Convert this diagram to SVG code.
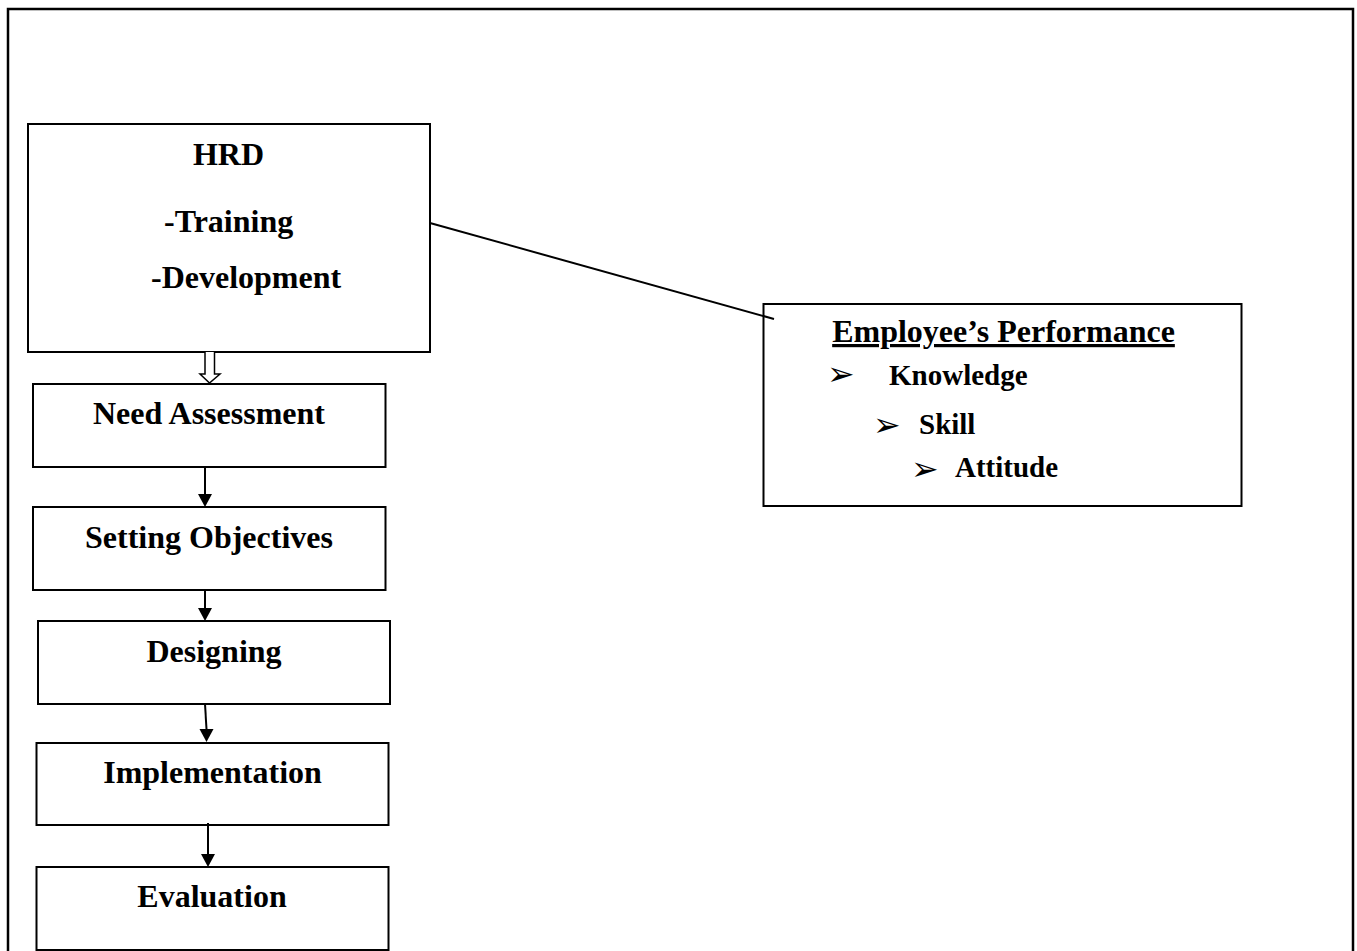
<svg xmlns="http://www.w3.org/2000/svg" width="1357" height="951" viewBox="0 0 1357 951">
<style>
.box{fill:#fff;stroke:#000;stroke-width:2}
.t{font-family:"Liberation Serif","Times New Roman",serif;font-weight:bold;font-size:32px;fill:#000}
.s{font-family:"Liberation Serif","Times New Roman",serif;font-weight:bold;font-size:29px;fill:#000}
.b{font-family:"DejaVu Sans",sans-serif;font-size:33px;fill:#000}
.c{stroke:#000;stroke-width:2;fill:none}
</style>
<rect width="1357" height="951" fill="#fff"/>
<path d="M8,951 L8,9 L1353,9 L1353,951" fill="none" stroke="#000" stroke-width="2.5"/>

<g id="hrd">
<rect class="box" x="28" y="124" width="402" height="228"/>
<text class="t" x="228.5" y="165" text-anchor="middle">HRD</text>
<text class="t" x="164" y="232">-Training</text>
<text class="t" x="151" y="288">-Development</text>
</g>

<g id="need">
<rect class="box" x="33" y="384" width="352.5" height="83"/>
<text class="t" x="209" y="424" text-anchor="middle">Need Assessment</text>
</g>

<g id="setting">
<rect class="box" x="33" y="507" width="352.5" height="83"/>
<text class="t" x="209" y="548" text-anchor="middle">Setting Objectives</text>
</g>

<g id="designing">
<rect class="box" x="38" y="621" width="352" height="83"/>
<text class="t" x="214" y="662" text-anchor="middle">Designing</text>
</g>

<g id="implementation">
<rect class="box" x="36.5" y="743" width="352" height="82"/>
<text class="t" x="212.5" y="783" text-anchor="middle">Implementation</text>
</g>

<g id="evaluation">
<rect class="box" x="36.5" y="867" width="352" height="83"/>
<text class="t" x="212" y="907" text-anchor="middle">Evaluation</text>
</g>

<g id="performance">
<rect class="box" x="763.5" y="304" width="478" height="202"/>
<text class="t" x="1003.5" y="342" text-anchor="middle" text-decoration="underline">Employee’s Performance</text>
<text class="b" x="827" y="385">➢</text>
<text class="s" x="889" y="385">Knowledge</text>
<text class="b" x="873" y="436">➢</text>
<text class="s" x="919" y="434">Skill</text>
<text class="b" x="911" y="480">➢</text>
<text class="s" x="955" y="477">Attitude</text>
</g>

<g id="connectors">
<line class="c" x1="430" y1="223" x2="774" y2="319" stroke-width="1.5"/>
<path d="M205,352 L205,374 L200,374 L209.5,383 L220,374 L214.5,374 L214.5,352" fill="#fff" stroke="#000" stroke-width="1.5"/>
<line x1="205" y1="467" x2="205" y2="494" stroke="#000" stroke-width="2"/>
<path d="M198,494 L212,494 L205,507 Z" fill="#000"/>
<line x1="205" y1="590" x2="205" y2="608" stroke="#000" stroke-width="2"/>
<path d="M198,608 L212,608 L205,621 Z" fill="#000"/>
<line x1="205" y1="704" x2="206.5" y2="729" stroke="#000" stroke-width="2"/>
<path d="M199.5,729 L213.5,729 L206.5,742 Z" fill="#000"/>
<line x1="208" y1="823" x2="208" y2="854" stroke="#000" stroke-width="2"/>
<path d="M201,854 L215,854 L208,867 Z" fill="#000"/>
</g>
</svg>
